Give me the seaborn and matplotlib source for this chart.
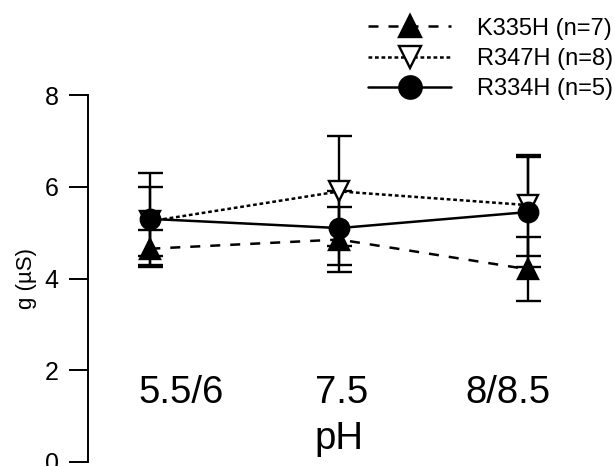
import numpy as np
import pandas as pd
import seaborn as sns
import matplotlib
matplotlib.use("Agg")
import matplotlib.pyplot as plt

# pH groups (x categories)
ph_labels = ["5.5/6", "7.5", "8/8.5"]

# mean conductance g (uS) and error (SE) per mutant
k335h_mean = [4.65, 4.85, 4.2]
k335h_err = [0.4, 0.7, 0.7]
r347h_mean = [5.25, 5.9, 5.6]
r347h_err = [0.75, 1.2, 1.1]
r334h_mean = [5.3, 5.1, 5.45]
r334h_err = [1.0, 0.8, 1.2]

series_names = ["K335H (n=7)", "R347H (n=8)", "R334H (n=5)"]

sns.set_style("white")
plt.rcParams['font.family'] = ['Liberation Sans', 'DejaVu Sans']
plt.rcParams['text.color'] = 'black'
plt.rcParams['axes.labelcolor'] = 'black'
plt.rcParams['ytick.color'] = 'black'

fig = plt.figure(figsize=(6.15, 4.66), dpi=100)
ax = fig.add_axes([0.143, 0.0086, 0.833, 0.7874])

xpos = np.arange(len(ph_labels))

styles = [
    # mean, err, marker, face colour, linestyle
    (k335h_mean, k335h_err, "^", "black", (0, (4, 4))),
    (r347h_mean, r347h_err, "v", "white", (0, (1.5, 1.1))),
    (r334h_mean, r334h_err, "o", "black", "-"),
]

for name, (mean, err, mk, fc, ls) in zip(series_names, styles):
    df = pd.DataFrame({"pH": xpos, "g": mean})
    ax.errorbar(xpos, mean, yerr=err, fmt="none", ecolor="black",
                elinewidth=1.7, capsize=9, capthick=1.7, zorder=2)
    sns.lineplot(data=df, x="pH", y="g", ax=ax, color="black", linestyle=ls,
                 linewidth=1.8, marker=mk, markersize=14, markerfacecolor=fc,
                 markeredgecolor="black", markeredgewidth=1.7, label=name,
                 sort=False, errorbar=None, zorder=3)

ax.set_ylim(0, 8)
ax.set_xlim(-0.33, 2.38)
ax.set_yticks([0, 2, 4, 6, 8])
ax.set_xticks([])
ax.tick_params(axis="y", direction="out", length=14, width=1.4, pad=7,
               labelsize=18, left=True)
for side in ["top", "right", "bottom"]:
    ax.spines[side].set_visible(False)
ax.spines["left"].set_linewidth(1.4)
ax.spines["left"].set_color("black")

# category labels drawn inside the plot area (not centred on the points)
label_shift = [0.16, 0.01, -0.11]
for x, dx, lab in zip(xpos, label_shift, ph_labels):
    ax.text(x + dx, 1.5, lab, ha="center", va="center", fontsize=27.5)
ax.text(xpos[1], 0.5, "pH", ha="center", va="center", fontsize=27.5)

ax.set_xlabel("")
ax.set_ylabel("g (\u00b5S)", fontsize=16)
ax.yaxis.set_label_coords(-0.1, 0.5)

leg = ax.legend(loc="upper right", frameon=False, fontsize=17,
                handlelength=3.5, handletextpad=1.1, labelspacing=0.35,
                numpoints=1, markerscale=1.15, borderaxespad=0.0, borderpad=0.0)
leg.set_bbox_to_anchor((0.997, 0.962), transform=fig.transFigure)

fig.savefig("out.png", dpi=100)
